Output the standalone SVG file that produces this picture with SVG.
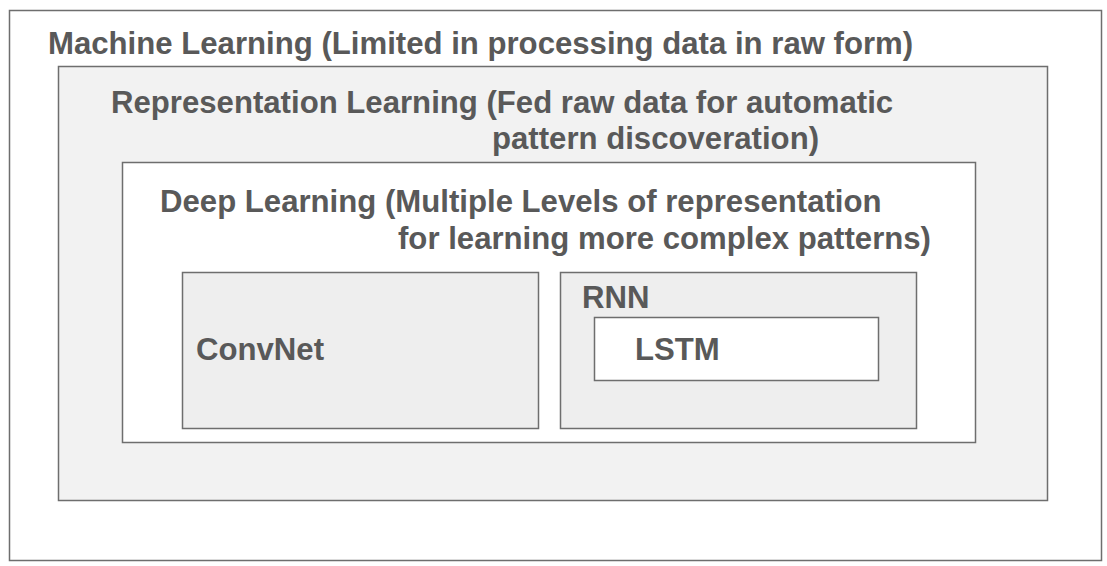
<svg xmlns="http://www.w3.org/2000/svg" width="1107" height="566" viewBox="0 0 1107 566">
<style>
.b{stroke:#6e6e6e;stroke-width:1.5}
.t{font-family:"Liberation Sans",Arial,sans-serif;font-weight:bold;font-size:31.15px;fill:#595959}
</style>
<rect width="1107" height="566" fill="#ffffff"/>
<g id="ml">
<rect class="b" x="9.5" y="10.5" width="1092" height="550" fill="#ffffff"/>
<text class="t" x="48" y="54">Machine Learning (Limited in processing data in raw form)</text>
</g>
<g id="rl">
<rect class="b" x="58.5" y="66.5" width="989" height="434" fill="#f2f2f2"/>
<text class="t" x="111" y="113">Representation Learning (Fed raw data for automatic</text>
<text class="t" x="492" y="149">pattern discoveration)</text>
</g>
<g id="dl">
<rect class="b" x="122.5" y="162.5" width="853" height="280" fill="#ffffff"/>
<text class="t" x="160" y="212">Deep Learning (Multiple Levels of representation</text>
<text class="t" x="398" y="249">for learning more complex patterns)</text>
</g>
<g id="convnet">
<rect class="b" x="182.5" y="272.5" width="356" height="156" fill="#eeeeee"/>
<text class="t" x="196" y="360">ConvNet</text>
</g>
<g id="rnn">
<rect class="b" x="560.5" y="272.5" width="356" height="156" fill="#eeeeee"/>
<text class="t" x="582" y="308">RNN</text>
</g>
<g id="lstm">
<rect class="b" x="594.5" y="317.5" width="284" height="63" fill="#ffffff"/>
<text class="t" x="635" y="360">LSTM</text>
</g>
<g id="connectors"></g>
</svg>
